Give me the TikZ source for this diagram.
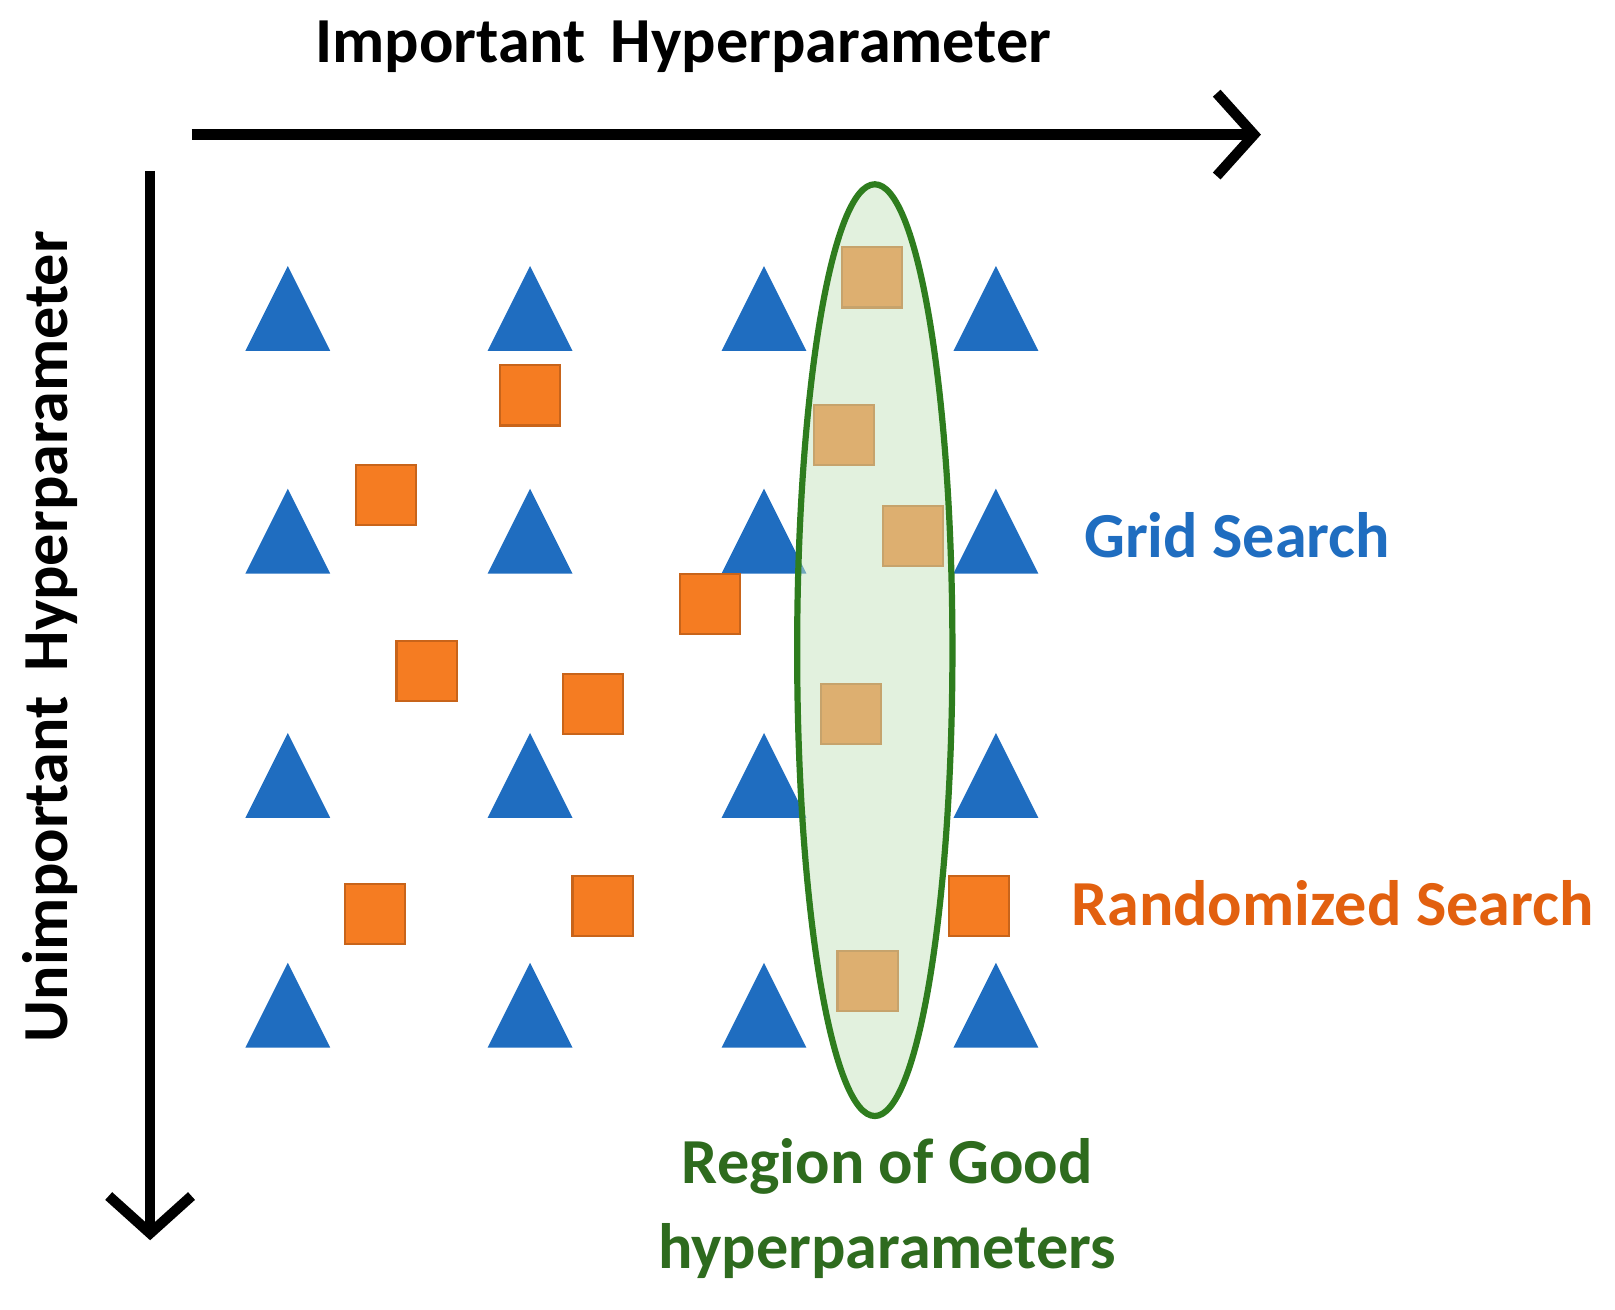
\documentclass[tikz,border=0pt]{standalone}
\usepackage{fontspec}
\setmainfont{Carlito}
\usetikzlibrary{arrows.meta}
\definecolor{tblue}{HTML}{1F6DC0}
\definecolor{sq}{HTML}{F57C22}
\definecolor{sqd}{HTML}{C8641A}
\definecolor{gline}{HTML}{2E7D1E}
\definecolor{gfill}{HTML}{C6E3BE}
\definecolor{gtext}{HTML}{2E6B1E}
\definecolor{otext}{HTML}{E2600F}
\begin{document}
\begin{tikzpicture}[x=0.5pt,y=-0.5pt,
  tri/.style={fill=tblue},
  sqs/.style={fill=sq,draw=sqd,line width=1pt,minimum size=29pt,inner sep=0pt},
  lab/.style={font=\bfseries\fontsize{31}{38}\selectfont},
  ax/.style={line width=5pt,-{Straight Barb[length=18pt,width=40pt,line width=5pt]}}]
\useasboundingbox (0,0) rectangle (1560,1265);
\coordinate (hs) at (185,130); \coordinate (he) at (1218,130);
\coordinate (vs) at (145,165); \coordinate (ve) at (145,1198);
\draw[ax] (hs) -- (he);
\draw[ax] (vs) -- (ve);
\node[lab] (ht) at (660,45) {Important\, Hyperparameter};
\node[lab,rotate=90] (vt) at (48,615) {Unimportant\, Hyperparameter};
\foreach \x in {278,512,738,962}
  \foreach \y in {298,513,749,971}
    \fill[tri] (\x-41,\y+41) -- (\x,\y-41) -- (\x+41,\y+41) -- cycle;
\foreach \p/\n in {{(842,268)}/s1,{(512,382)}/s2,{(815,420)}/s3,{(373,478)}/s4,{(882,518)}/s5,{(686,583)}/s6,{(412,648)}/s7,{(573,680)}/s8,{(822,690)}/s9,{(362,883)}/s10,{(582,875)}/s11,{(946,875)}/s12,{(838,948)}/s13}
  \node[sqs] (\n) at \p {};
\draw[gline,line width=3pt,fill=gfill,fill opacity=0.5] (845,628) ellipse [x radius=75,y radius=450];
\node[lab,text=tblue] (gs) at (1195,517) {Grid Search};
\node[lab,text=otext] (rs) at (1287,872) {Randomized Search};
\node[lab,text=gtext,align=center] (rg) at (857,1167) {Region of Good\\[3pt]hyperparameters};
\end{tikzpicture}
\end{document}
